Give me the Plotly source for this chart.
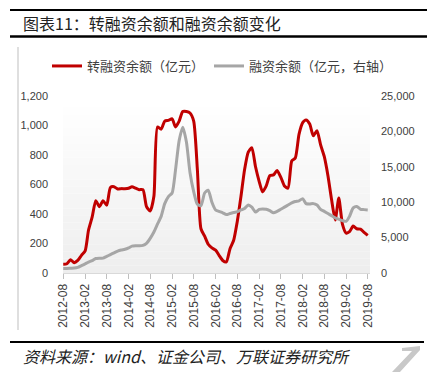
import plotly.graph_objects as go

# ---------------- data ----------------
months = [f"{2012 + (7 + i) // 12}-{(7 + i) % 12 + 1:02d}-01" for i in range(85)]  # 2012-08 .. 2019-08

refinancing = [  # 转融资余额（亿元）
    60, 63, 90, 70, 85, 120, 150, 290, 380, 490, 450, 490,
    460, 580, 585, 570, 572, 572, 575, 585, 575, 565, 565, 450,
    420, 520, 990, 975, 1030, 1035, 1045, 990, 1030, 1095, 1095, 1085,
    1030, 700, 300, 250, 195, 170, 155, 120, 85, 75, 165, 220,
    350, 520, 700, 820, 850, 720, 620, 550, 590, 660, 665, 695,
    650, 590, 575, 760, 780, 940, 1020, 1038, 1010, 930, 965, 870,
    790, 660, 500, 360, 508, 330, 271, 280, 318, 300, 298, 275,
    255,
]

margin_fin = [  # 融资余额（亿元，右轴）
    650, 650, 680, 700, 800, 1050, 1300, 1550, 1750, 2050, 2100, 2100,
    2350, 2600, 2850, 3100, 3250, 3350, 3550, 3800, 3850, 3850, 3900, 4200,
    4900, 5800, 6900, 8000, 9800, 10800, 11300, 14500, 18700, 20600, 18500, 14200,
    11500, 9700, 9500, 11300, 11700, 10000, 8900, 8700, 8500, 8250, 8400, 8550,
    8650, 8900, 9100, 9600, 9300, 8600, 9000, 9050, 9000, 8800, 8500, 8700,
    9000, 9300, 9600, 9900, 10100, 10200, 10500, 9800, 9750, 9800, 9600, 9000,
    8700, 8400, 8100, 7800, 7600, 7400, 7300, 8000, 9200, 9400, 9000, 8950,
    8900,
]

left_ticks = [0, 200, 400, 600, 800, 1000, 1200]
right_ticks = [0, 5000, 10000, 15000, 20000, 25000]

title_text = "图表11：转融资余额和融资余额变化"
source_text = "资料来源：wind、证金公司、万联证券研究所"
name_red = "转融资余额（亿元）"
name_grey = "融资余额（亿元，右轴）"

# ---------------- layout geometry ----------------
W, H = 427, 372
L, R, T, B = 63, 370, 96, 273


def px(x):
    return (x - L) / (R - L)


def py(y):
    return (B - y) / (B - T)


fig = go.Figure()
fig.add_trace(go.Scatter(
    x=months, y=refinancing, name=name_red, mode="lines",
    line=dict(color="#C00000", width=3, shape="spline", smoothing=0.6),
))
fig.add_trace(go.Scatter(
    x=months, y=margin_fin, name=name_grey, mode="lines", yaxis="y2",
    line=dict(color="#A6A6A6", width=3, shape="spline", smoothing=0.6),
))

shapes = []
# gradient plot background
n = 24
top_px = 100
for i in range(n):
    y0 = top_px + (B - top_px) * i / n
    y1 = top_px + (B - top_px) * (i + 1) / n
    t = (i + 0.5) / n
    c = int(round(255 - t * 17))
    shapes.append(dict(type="rect", xref="paper", yref="paper", layer="below",
                       x0=0, x1=1, y0=py(y1), y1=py(y0),
                       fillcolor=f"rgb({c},{c},{c})", line=dict(width=0)))
# title rules
shapes.append(dict(type="line", xref="paper", yref="paper", x0=px(10), x1=px(427),
                   y0=py(10), y1=py(10), line=dict(color="black", width=2)))
shapes.append(dict(type="line", xref="paper", yref="paper", x0=px(10), x1=px(427),
                   y0=py(36.5), y1=py(36.5), line=dict(color="black", width=2.5)))
# footer rule
shapes.append(dict(type="line", xref="paper", yref="paper", x0=px(10), x1=px(424),
                   y0=py(342), y1=py(342), line=dict(color="black", width=2)))
# left frame line
shapes.append(dict(type="line", xref="paper", yref="paper", x0=px(18), x1=px(18),
                   y0=py(47), y1=py(330), line=dict(color="#BFBFBF", width=1)))
# watermark
pts = [(402, 348), (420, 346), (420, 350), (400, 372), (392, 372), (412, 351), (402, 351)]
path = "M " + " L ".join(f"{px(a):.4f},{py(b):.4f}" for a, b in pts) + " Z"
shapes.append(dict(type="path", xref="paper", yref="paper", path=path,
                   fillcolor="#C8C8C8", line=dict(width=0)))

annotations = [
    dict(text=title_text, xref="paper", yref="paper", x=px(21), y=py(23),
         xanchor="left", yanchor="middle", showarrow=False,
         font=dict(size=16, color="#222222", family="Noto Sans CJK SC")),
    dict(text=f"<i>{source_text}</i>", xref="paper", yref="paper", x=px(21), y=py(356),
         xanchor="left", yanchor="middle", showarrow=False,
         font=dict(size=16, color="#222222", family="Noto Sans CJK SC")),
]

fig.update_layout(
    width=W, height=H,
    margin=dict(l=L, r=W - R, t=T, b=H - B, pad=0),
    paper_bgcolor="white", plot_bgcolor="white",
    showlegend=True,
    legend=dict(orientation="h", x=px(47), y=py(66), xanchor="left", yanchor="middle",
                font=dict(size=13, color="#404040", family="Noto Sans CJK SC"),
                bgcolor="rgba(0,0,0,0)", itemwidth=30, tracegroupgap=0),
    shapes=shapes, annotations=annotations,
    xaxis=dict(type="date", range=["2012-07-30", "2019-08-20"],
               tickmode="linear", tick0="2012-08-01", dtick="M6", tickformat="%Y-%m",
               tickangle=-90, ticks="outside", ticklen=5, tickcolor="#BFBFBF",
               showline=True, linecolor="#D9D9D9", linewidth=1, showgrid=False,
               zeroline=False,
               tickfont=dict(size=12, color="#404040", family="Liberation Sans")),
    yaxis=dict(range=[0, 1200], tickvals=left_ticks,
               ticktext=[f"{v:,}" for v in left_ticks], showgrid=False, zeroline=False,
               showline=False, ticks="", ticklabelstandoff=14,
               tickfont=dict(size=11, color="#404040", family="Liberation Sans")),
    yaxis2=dict(range=[0, 25000], overlaying="y", side="right", tickvals=right_ticks,
                ticktext=[f"{v:,}" for v in right_ticks], showgrid=False, zeroline=False,
                showline=False, ticks="", ticklabelstandoff=10,
                tickfont=dict(size=11, color="#404040", family="Liberation Sans")),
)

fig.write_html("out.html", config={"displayModeBar": False},
               post_script="document.body.style.margin='0px';")
